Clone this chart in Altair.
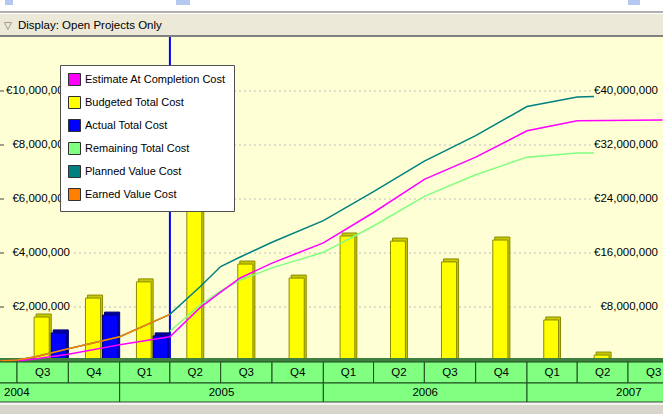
import altair as alt
import pandas as pd

# ---------------- data ----------------
quarter_labels = ["Q2", "Q3", "Q4", "Q1", "Q2", "Q3", "Q4", "Q1", "Q2", "Q3", "Q4", "Q1", "Q2", "Q3"]
quarter_starts = ["2004-04-01", "2004-07-01", "2004-10-01", "2005-01-01", "2005-04-01", "2005-07-01",
                  "2005-10-01", "2006-01-01", "2006-04-01", "2006-07-01", "2006-10-01", "2007-01-01",
                  "2007-04-01", "2007-07-01"]
quarter_ends = quarter_starts[1:] + ["2007-10-01"]

year_labels = ["2004", "2005", "2006", "2007"]
year_starts = ["2004-01-01", "2005-01-01", "2006-01-01", "2007-01-01"]
year_ends = ["2005-01-01", "2006-01-01", "2007-01-01", "2008-01-01"]

# quarterly bars (left axis, EUR)
bar_quarter_starts = quarter_starts[1:13]        # Q3 2004 .. Q2 2007
budgeted_total = [1630000, 2330000, 2930000, 7100000, 3590000, 3070000,
                  4630000, 4440000, 3670000, 4480000, 1520000, 220000]
actual_quarter_starts = quarter_starts[1:4]      # Q3 2004 .. Q1 2005
actual_total = [1040000, 1700000, 930000]

# cumulative curves (right axis, EUR)
eac_dates = ["2004-07-01", "2004-08-01", "2004-10-01", "2005-01-01", "2005-04-01", "2005-05-25",
             "2005-07-01", "2005-08-05", "2005-10-01", "2006-01-01", "2006-04-01", "2006-07-01",
             "2006-10-01", "2007-01-01", "2007-04-01", "2007-09-01"]
eac_values = [0, 300000, 1000000, 2400000, 3600000, 7900000, 10200000, 12300000, 14500000,
              17500000, 22000000, 26900000, 30200000, 34100000, 35600000, 35700000]

remaining_dates = ["2005-04-01", "2005-05-25", "2005-07-01", "2005-08-05", "2005-10-01", "2006-01-01",
                   "2006-04-01", "2006-07-01", "2006-10-01", "2007-01-01", "2007-04-01", "2007-05-01"]
remaining_values = [4400000, 8300000, 10400000, 12000000, 13800000, 16100000, 20000000,
                    24400000, 27600000, 30200000, 30800000, 30800000]

planned_dates = ["2004-06-01", "2004-07-01", "2004-08-01", "2004-10-01", "2005-01-01", "2005-04-01",
                 "2005-05-25", "2005-07-01", "2005-08-05", "2005-10-01", "2006-01-01", "2006-04-01",
                 "2006-07-01", "2006-10-01", "2007-01-01", "2007-04-01", "2007-05-01"]
planned_values = [0, 150000, 600000, 1800000, 3600000, 6900000, 11000000, 14000000, 15400000,
                  17600000, 20800000, 25100000, 29600000, 33400000, 37700000, 39100000, 39200000]

earned_dates = ["2004-06-01", "2004-07-01", "2004-08-01", "2004-10-01", "2005-01-01", "2005-04-01"]
earned_values = [0, 150000, 600000, 1800000, 3600000, 6900000]

data_date = "2005-04-01"

left_ticks = [2000000, 4000000, 6000000, 8000000, 10000000]
right_ticks = [8000000, 16000000, 24000000, 32000000, 40000000]

legend_names = ["Estimate At Completion Cost", "Budgeted Total Cost", "Actual Total Cost",
                "Remaining Total Cost", "Planned Value Cost", "Earned Value Cost"]
legend_colors = ["#FF00FF", "#FFFF00", "#0000FF", "#80FF80", "#008080", "#FF8000"]

# ---------------- helpers ----------------
FONT = "Liberation Sans"
W, H = 663, 324


def iso(ts):
    return pd.Timestamp(ts).strftime("%Y-%m-%dT%H:%M:%SZ")


xscale = alt.Scale(type="utc",
                   domain=[alt.DateTime(year=2004, month=5, date=31, hours=12, utc=True),
                           alt.DateTime(year=2007, month=9, date=1, hours=17, utc=True)])
yleft = alt.Scale(domain=[0, 12000000])
yright = alt.Scale(domain=[0, 48000000])

one = pd.DataFrame({"k": [0]})


def band(x1, x2, y1, y2, color):
    return alt.Chart(one).mark_rect(color=color).encode(
        x=alt.value(x1), x2=alt.value(x2), y=alt.value(y1), y2=alt.value(y2))


# ---------------- tables ----------------
q = pd.DataFrame({"label": quarter_labels,
                  "start": [iso(s) for s in quarter_starts],
                  "end": [iso(e) for e in quarter_ends],
                  "mid": [iso(pd.Timestamp(s) + (pd.Timestamp(e) - pd.Timestamp(s)) / 2)
                          for s, e in zip(quarter_starts, quarter_ends)]})
yrs = pd.DataFrame({"label": year_labels,
                    "start": [iso(s) for s in year_starts],
                    "end": [iso(e) for e in year_ends],
                    "mid": [iso(pd.Timestamp(s) + (pd.Timestamp(e) - pd.Timestamp(s)) / 2)
                            for s, e in zip(year_starts, year_ends)]})


def slots(starts, values, slot):
    rows = []
    for s, v in zip(starts, values):
        a = pd.Timestamp(s)
        i = quarter_starts.index(s)
        b = pd.Timestamp(quarter_ends[i])
        ln = b - a
        rows.append({"s0": iso(a + ln * slot / 3), "s1": iso(a + ln * (slot + 1) / 3), "value": v})
    return pd.DataFrame(rows)


bud = slots(bar_quarter_starts, budgeted_total, 1)
act = slots(actual_quarter_starts, actual_total, 2)

ticks = pd.DataFrame({"lv": left_ticks, "rv": right_ticks,
                      "ll": ["€{:,}".format(v) for v in left_ticks],
                      "rl": ["€{:,}".format(v) for v in right_ticks]})


def series(name, dates, values):
    return pd.DataFrame({"series": name, "date": [iso(d) for d in dates], "value": values})


lines = {
    "Remaining Total Cost": series("Remaining Total Cost", remaining_dates, remaining_values),
    "Planned Value Cost": series("Planned Value Cost", planned_dates, planned_values),
    "Estimate At Completion Cost": series("Estimate At Completion Cost", eac_dates, eac_values),
    "Earned Value Cost": series("Earned Value Cost", earned_dates, earned_values),
}
line_color = dict(zip(legend_names, legend_colors))

# ---------------- layers ----------------
layers = []

# header
layers.append(band(0, W, -37, -26, "#FFFFFF"))
layers.append(band(5, 13, -37, -32, "#B4C8F0"))
layers.append(band(176, 190, -37, -32, "#B4C8F0"))
layers.append(band(628, 640, -37, -32, "#B4C8F0"))
layers.append(band(0, W, -26, -24, "#B0B0B0"))
layers.append(band(0, W, -24, -23, "#FFFFFF"))
layers.append(band(0, W, -2, 0, "#808080"))
layers.append(alt.Chart(one).mark_text(text="▽", font="DejaVu Sans", fontSize=10, color="#606060",
                                       align="left", baseline="middle").encode(
    x=alt.value(4), y=alt.value(-11)))
layers.append(alt.Chart(one).mark_text(text="Display: Open Projects Only", font=FONT, fontSize=11.5,
                                       color="#000000", align="left", baseline="middle").encode(
    x=alt.value(18), y=alt.value(-11)))

# grid + axis labels
layers.append(alt.Chart(ticks).mark_rule(color="#BEBEBE", strokeDash=[2, 3], strokeWidth=1).encode(
    y=alt.Y("lv:Q", scale=yleft, axis=None), x=alt.value(74), x2=alt.value(594)))
layers.append(alt.Chart(ticks).mark_rule(color="#404040", strokeWidth=1).encode(
    y=alt.Y("lv:Q", scale=yleft, axis=None), x=alt.value(0), x2=alt.value(4)))
layers.append(alt.Chart(ticks).mark_text(font=FONT, fontSize=11.5, align="right", baseline="middle",
                                         color="#000000").encode(
    y=alt.Y("lv:Q", scale=yleft, axis=None), x=alt.value(70), text="ll:N"))
layers.append(alt.Chart(ticks).mark_text(font=FONT, fontSize=11.5, align="right", baseline="middle",
                                         color="#000000").encode(
    y=alt.Y("rv:Q", scale=yright, axis=None), x=alt.value(658), text="rl:N"))

# 3-D-ish bars
for df, face, side, edge in [(bud, "#FFFF00", "#C8C800", "#8A8A00"),
                             (act, "#0000FF", "#0000A8", "#000070")]:
    enc = dict(x=alt.X("s0:T", scale=xscale, axis=None), x2="s1:T",
               y=alt.Y("value:Q", scale=yleft, axis=None), y2=alt.datum(0))
    layers.append(alt.Chart(df).mark_rect(color=side, stroke=edge, strokeWidth=1,
                                          xOffset=2, x2Offset=0, yOffset=-3).encode(**enc))
    layers.append(alt.Chart(df).mark_rect(color=face, stroke=edge, strokeWidth=1,
                                          x2Offset=-2).encode(**enc))

# data date line
layers.append(alt.Chart(pd.DataFrame({"d": [iso(data_date)]})).mark_rule(
    color="#0000FF", strokeWidth=2).encode(
    x=alt.X("d:T", scale=xscale, axis=None), y=alt.value(0), y2=alt.value(323)))

# floor strip
layers.append(band(0, W, 321, 325, "#3F7F3F"))

# cumulative lines
for name in ["Planned Value Cost", "Remaining Total Cost", "Estimate At Completion Cost", "Earned Value Cost"]:
    layers.append(alt.Chart(lines[name]).mark_line(color=line_color[name], strokeWidth=1.5).encode(
        x=alt.X("date:T", scale=xscale, axis=None),
        y=alt.Y("value:Q", scale=yright, axis=None)))

# time-scale rows
qvis = q.iloc[1:]
layers.append(alt.Chart(q).mark_rect(color="#80FF80", stroke="#1E4A1E", strokeWidth=1).encode(
    x=alt.X("start:T", scale=xscale, axis=None), x2="end:T", y=alt.value(325), y2=alt.value(346)))
layers.append(alt.Chart(qvis).mark_text(font=FONT, fontSize=11.5, color="#000000", baseline="middle").encode(
    x=alt.X("mid:T", scale=xscale, axis=None), y=alt.value(335.5), text="label:N"))
layers.append(alt.Chart(yrs).mark_rect(color="#80FF80", stroke="#1E4A1E", strokeWidth=1).encode(
    x=alt.X("start:T", scale=xscale, axis=None), x2="end:T", y=alt.value(346), y2=alt.value(365)))
layers.append(alt.Chart(yrs[yrs.label != "2004"]).mark_text(font=FONT, fontSize=11.5, color="#000000",
                                                           baseline="middle").encode(
    x=alt.X("mid:T", scale=xscale, axis=None), y=alt.value(355.5), text="label:N"))
layers.append(alt.Chart(yrs[yrs.label == "2004"]).mark_text(font=FONT, fontSize=11.5, color="#000000",
                                                           align="left", baseline="middle").encode(
    x=alt.value(4), y=alt.value(355.5), text="label:N"))
layers.append(band(0, W, 365, 366, "#A0A0A0"))
layers.append(band(0, W, 366, 368, "#F4F3EE"))
layers.append(band(0, W, 368, 377, "#D8D5CC"))

# legend
leg = pd.DataFrame({"series": legend_names})
layers.append(alt.Chart(leg).mark_square(opacity=0, size=1).encode(
    x=alt.value(0), y=alt.value(0),
    color=alt.Color("series:N", scale=alt.Scale(domain=legend_names, range=legend_colors),
                    legend=alt.Legend(title=None, orient="none", legendX=60, legendY=28,
                                      direction="vertical", fillColor="#FFFFFF",
                                      strokeColor="#505050", padding=8, offset=0,
                                      symbolType="square", symbolSize=144,
                                      symbolStrokeColor="#303030", symbolStrokeWidth=1,
                                      symbolOpacity=1, labelFont=FONT, labelFontSize=11,
                                      labelColor="#000000", rowPadding=6, labelOffset=4,
                                      labelLimit=300))))

chart = alt.layer(*layers).resolve_scale(y="independent").properties(
    width=W, height=H, background="#ECE9D8",
    autosize=alt.AutoSizeParams(type="none"),
    padding={"top": 37, "bottom": 53, "left": 0, "right": 0},
).configure_view(stroke=None, fill="#FFFFD6")

chart.save("out.html", embed_options={"renderer": "svg", "actions": False})
